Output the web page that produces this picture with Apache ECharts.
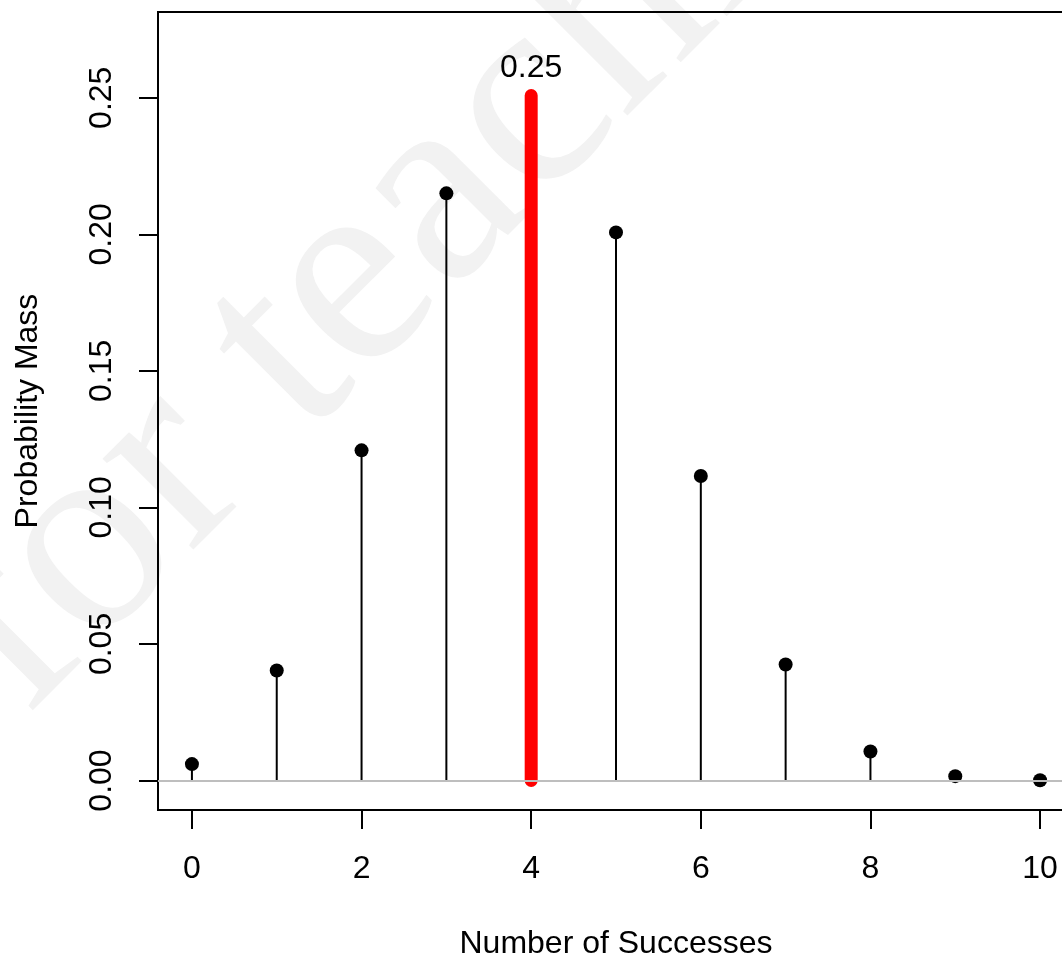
<!DOCTYPE html>
<html>
<head>
<meta charset="utf-8">
<script src="https://cdn.jsdelivr.net/npm/echarts@6.0.0/dist/echarts.min.js"></script>
<style>
  html, body { margin: 0; padding: 0; background: #fff; }
  #main { width: 1062px; height: 960px; }
</style>
</head>
<body>
<div id="main"></div>
<script>
  // binomial probability mass
  var successes = [0, 1, 2, 3, 4, 5, 6, 7, 8, 9, 10];
  var probMass = [0.0060, 0.0403, 0.1209, 0.2150, 0.2508, 0.2007, 0.1115, 0.0425, 0.0106, 0.0016, 0.0001];
  var highlightX = 4;
  var xTicks = [0, 2, 4, 6, 8, 10];
  var yTicks = [0, 0.05, 0.10, 0.15, 0.20, 0.25];

  var font = '"Liberation Sans", Arial, sans-serif';

  var points = successes.map(function (x, i) { return [x, probMass[i]]; });
  var others = points.filter(function (d) { return d[0] !== highlightX; });
  var picked = points.filter(function (d) { return d[0] === highlightX; });

  var chart = echarts.init(document.getElementById('main'));

  chart.setOption({
    animation: false,
    backgroundColor: '#fff',
    graphic: {
      elements: [{
        type: 'text',
        x: 448,
        y: 191,
        rotation: Math.PI / 4,
        z: -100,
        silent: true,
        style: {
          text: 'for teaching',
          fontSize: 280,
          fontFamily: '"Liberation Serif", "DejaVu Serif", serif',
          fill: '#f2f2f2',
          align: 'center',
          verticalAlign: 'middle'
        }
      }]
    },
    grid: {
      left: 158, top: 12, right: -12, bottom: 150,
      show: true,
      borderColor: '#000',
      borderWidth: 2,
      backgroundColor: 'transparent',
      outerBoundsMode: 'none'
    },
    xAxis: {
      type: 'value',
      min: -0.4,
      max: 10.4,
      name: 'Number of Successes',
      nameLocation: 'middle',
      nameGap: 118,
      nameTextStyle: { color: '#000', fontSize: 32, fontFamily: font },
      axisLine: { show: false, onZero: false },
      splitLine: { show: false },
      axisTick: { show: true, length: 19, customValues: xTicks, lineStyle: { color: '#000', width: 2 } },
      axisLabel: { customValues: xTicks, margin: 43, color: '#000', fontSize: 32, fontFamily: font }
    },
    yAxis: {
      type: 'value',
      min: -0.0108,
      max: 0.2814,
      name: 'Probability Mass',
      nameLocation: 'middle',
      nameGap: 114,
      nameTextStyle: { color: '#000', fontSize: 32, fontFamily: font },
      axisLine: { show: false, onZero: false },
      splitLine: { show: false },
      axisTick: { show: true, length: 19, customValues: yTicks, lineStyle: { color: '#000', width: 2 } },
      axisLabel: {
        customValues: yTicks,
        rotate: 90,
        margin: 40,
        color: '#000',
        fontSize: 32,
        fontFamily: font,
        formatter: function (v) { return v.toFixed(2); }
      }
    },
    series: [
      {
        // thin stems
        type: 'custom',
        data: others,
        z: 2,
        renderItem: function (params, api) {
          var top = api.coord([api.value(0), api.value(1)]);
          var base = api.coord([api.value(0), 0]);
          return {
            type: 'line',
            shape: { x1: base[0], y1: base[1], x2: top[0], y2: top[1] },
            style: { stroke: '#000', lineWidth: 2 }
          };
        },
        markLine: {
          silent: true,
          symbol: 'none',
          label: { show: false },
          lineStyle: { color: '#bebebe', width: 2, type: 'solid' },
          data: [{ yAxis: 0 }]
        }
      },
      {
        type: 'scatter',
        data: others,
        z: 3,
        symbol: 'circle',
        symbolSize: 14,
        itemStyle: { color: '#000', opacity: 1 }
      },
      {
        // highlighted value
        type: 'custom',
        data: picked,
        z: 4,
        renderItem: function (params, api) {
          var top = api.coord([api.value(0), api.value(1)]);
          var base = api.coord([api.value(0), 0]);
          return {
            type: 'group',
            children: [{
              type: 'line',
              shape: { x1: base[0], y1: base[1], x2: top[0], y2: top[1] },
              style: { stroke: '#ff0000', lineWidth: 13, lineCap: 'round' }
            }, {
              type: 'text',
              x: top[0],
              y: top[1] - 27,
              style: {
                text: api.value(1).toFixed(2),
                fill: '#000',
                fontSize: 32,
                fontFamily: font,
                align: 'center',
                verticalAlign: 'middle'
              }
            }]
          };
        }
      }
    ]
  });
</script>
</body>
</html>
